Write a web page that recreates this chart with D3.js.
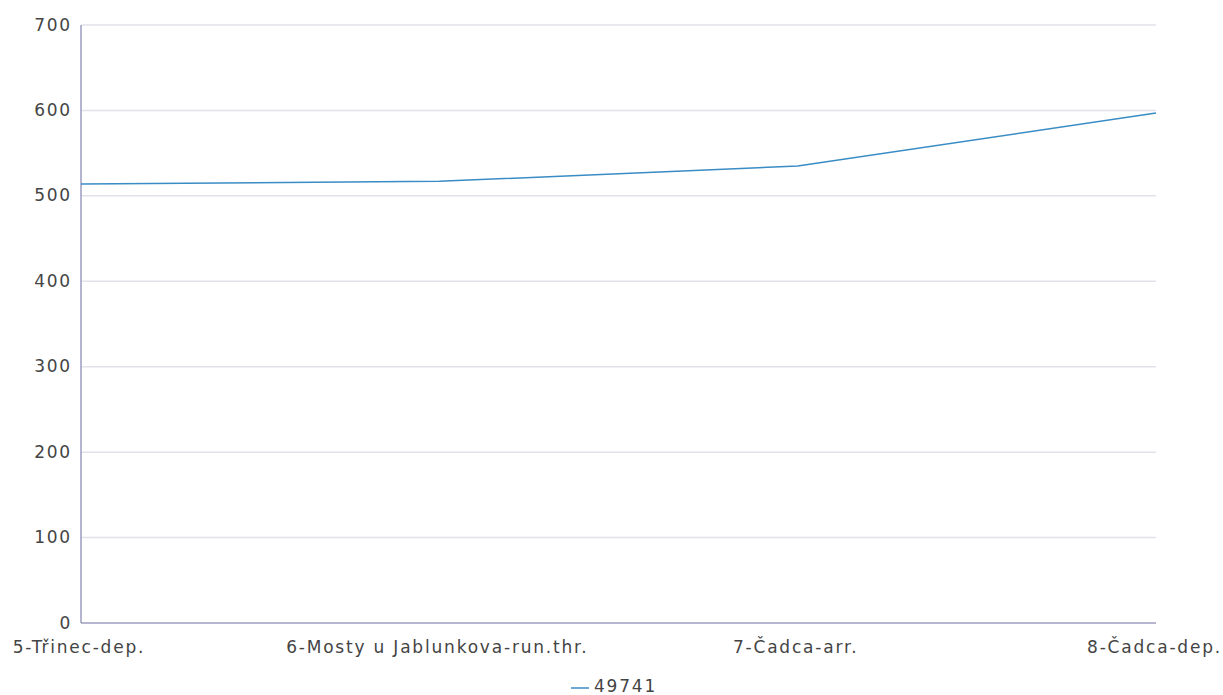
<!DOCTYPE html>
<html><head><meta charset="utf-8">
<script src="https://cdn.jsdelivr.net/npm/d3@7"></script>
<style>body{margin:0;background:#fff}svg{display:block}text{font-family:"DejaVu Sans",sans-serif;fill:#444;font-size:17px;letter-spacing:1.8px}</style>
</head><body><svg id="c" width="1223" height="695"></svg>
<script>
const categories = ["5-Třinec-dep.", "6-Mosty u Jablunkova-run.thr.", "7-Čadca-arr.", "8-Čadca-dep."];
const values = [514, 517, 535, 597];
const seriesName = "49741";
const yTicks = [0, 100, 200, 300, 400, 500, 600, 700];

const svg = d3.select("#c");
const L = 81, R = 1156, T = 25, B = 623;
const x = d3.scalePoint().domain(categories).range([L, R]);
const y = d3.scaleLinear().domain([0, 700]).range([B, T]);

// grid
svg.append("g").selectAll("line").data(yTicks.filter(d => d > 0)).join("line")
  .attr("x1", L).attr("x2", R).attr("y1", d => y(d)).attr("y2", d => y(d))
  .attr("stroke", "#e2e2ea").attr("stroke-width", 1.5);

// y labels
svg.append("g").selectAll("text").data(yTicks).join("text")
  .attr("x", 72).attr("y", d => y(d) + 5.5)
  .attr("text-anchor", "end").text(d => d);

// axes lines
svg.append("line").attr("x1", L).attr("x2", L).attr("y1", T).attr("y2", B)
  .attr("stroke", "#9c9cc0").attr("stroke-width", 1.5);
svg.append("line").attr("x1", L).attr("x2", R).attr("y1", B).attr("y2", B)
  .attr("stroke", "#9c9cc0").attr("stroke-width", 1.5);

// x labels
svg.append("g").selectAll("text").data(categories).join("text")
  .attr("x", (d, i) => i === categories.length - 1 ? 1222 : x(d) - 2)
  .attr("y", 653)
  .attr("text-anchor", (d, i) => i === categories.length - 1 ? "end" : "middle")
  .text(d => d);

// line
svg.append("path").datum(values)
  .attr("d", d3.line().x((d, i) => x(categories[i])).y(d => y(d)))
  .attr("fill", "none").attr("stroke", "#3a8cc4").attr("stroke-width", 1.5);

// legend
svg.append("line").attr("x1", 571).attr("x2", 589).attr("y1", 688).attr("y2", 688)
  .attr("stroke", "#3a8cc4").attr("stroke-width", 1.5);
svg.append("text").attr("x", 594).attr("y", 692).text(seriesName);
</script></body></html>
